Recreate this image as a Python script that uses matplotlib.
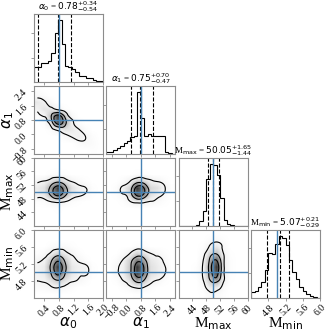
import numpy as np
import matplotlib
matplotlib.use('Agg')
import matplotlib.pyplot as plt
from matplotlib.ticker import MaxNLocator
from matplotlib.tri import Triangulation, UniformTriRefiner

plt.rcParams['font.family'] = ['Liberation Serif', 'DejaVu Serif']
plt.rcParams['mathtext.fontset'] = 'dejavusans'

# parameter names, summary numbers and truths
labels = [r'$\alpha_0$', r'$\alpha_1$', r'M$_{\rm max}$', r'M$_{\rm min}$']
medians = [0.78, 0.75, 50.05, 5.07]
err_lo = [0.54, 0.47, 1.44, 0.29]
err_hi = [0.34, 0.70, 1.65, 0.21]
truths = [0.8, 0.8, 50.0, 5.0]
ranges = [(0.12, 2.0), (-1.1, 2.7), (40.0, 60.0), (4.4, 6.0)]
ticks = [[0.4, 0.8, 1.2, 1.6, 2.0],
         [-0.8, 0.0, 0.8, 1.6, 2.4],
         [44, 48, 52, 56, 60],
         [4.8, 5.2, 5.6, 6.0]]

# 1d histograms (20 bins over each range, relative counts)
hist_a0 = [0.24, 0.24, 0.31, 0.32, 0.35, 0.48, 0.80, 1.00, 0.62, 0.27,
           0.24, 0.22, 0.17, 0.11, 0.11, 0.07, 0.07, 0.04, 0.03, 0.03]
hist_a1 = [0.03, 0.04, 0.07, 0.10, 0.13, 0.18, 0.21, 0.28, 0.29, 1.00,
           0.59, 0.29, 0.32, 0.30, 0.30, 0.29, 0.29, 0.03, 0.02, 0.01]
hist_mmax = [0.0, 0.0, 0.0, 0.0, 0.005, 0.02, 0.09, 0.24, 0.75, 1.00,
             0.98, 0.83, 0.46, 0.10, 0.03, 0.02, 0.005, 0.0, 0.0, 0.0]
hist_mmin = [0.10, 0.12, 0.18, 0.26, 0.45, 0.73, 0.71, 0.87, 1.00, 0.97,
             0.85, 0.61, 0.42, 0.30, 0.18, 0.12, 0.06, 0.03, 0.01, 0.005]

# 2d densities, 10x10 cells over the panel ranges, top row first
dens_a0_a1 = [
    [0.02, 0, 0, 0, 0, 0, 0, 0, 0, 0],
    [0.06, 0.03, 0, 0, 0, 0, 0, 0, 0, 0],
    [0.20, 0.14, 0.05, 0, 0, 0, 0, 0, 0, 0],
    [0.14, 0.22, 0.20, 0.10, 0.02, 0, 0, 0, 0, 0],
    [0.02, 0.10, 0.45, 1.00, 0.40, 0.06, 0, 0, 0, 0],
    [0, 0.02, 0.25, 0.90, 0.55, 0.15, 0.03, 0, 0, 0],
    [0, 0, 0.03, 0.12, 0.22, 0.20, 0.12, 0.04, 0, 0],
    [0, 0, 0, 0, 0.04, 0.10, 0.15, 0.10, 0.03, 0],
    [0, 0, 0, 0, 0, 0, 0.04, 0.06, 0.04, 0.01],
    [0, 0, 0, 0, 0, 0, 0, 0, 0.02, 0.01]]
dens_a0_mmax = [
    [0, 0, 0, 0, 0, 0, 0, 0, 0, 0],
    [0, 0, 0, 0, 0, 0, 0, 0, 0, 0],
    [0, 0, 0.02, 0.04, 0.02, 0, 0, 0, 0, 0],
    [0.08, 0.12, 0.25, 0.40, 0.25, 0.10, 0.05, 0.02, 0, 0],
    [0.18, 0.25, 0.60, 1.00, 0.60, 0.25, 0.15, 0.11, 0.02, 0],
    [0.15, 0.20, 0.50, 0.85, 0.50, 0.20, 0.12, 0.07, 0.01, 0],
    [0.02, 0.03, 0.08, 0.12, 0.08, 0.03, 0.01, 0, 0, 0],
    [0, 0, 0, 0.02, 0, 0, 0, 0, 0, 0],
    [0, 0, 0, 0, 0, 0, 0, 0, 0, 0],
    [0, 0, 0, 0, 0, 0, 0, 0, 0, 0]]
dens_a1_mmax = [
    [0, 0, 0, 0, 0, 0, 0, 0, 0, 0],
    [0, 0, 0, 0, 0, 0, 0, 0, 0, 0],
    [0, 0, 0, 0, 0.02, 0.02, 0, 0, 0, 0],
    [0, 0, 0.04, 0.12, 0.35, 0.30, 0.15, 0.10, 0.04, 0],
    [0, 0.03, 0.14, 0.35, 1.00, 0.80, 0.30, 0.25, 0.11, 0.01],
    [0, 0.02, 0.08, 0.30, 0.85, 0.65, 0.25, 0.15, 0.06, 0],
    [0, 0, 0.02, 0.08, 0.15, 0.12, 0.08, 0.05, 0.02, 0],
    [0, 0, 0, 0, 0, 0, 0, 0, 0, 0],
    [0, 0, 0, 0, 0, 0, 0, 0, 0, 0],
    [0, 0, 0, 0, 0, 0, 0, 0, 0, 0]]
dens_a0_mmin = [
    [0, 0, 0, 0, 0, 0, 0, 0, 0, 0],
    [0, 0, 0, 0, 0, 0, 0, 0, 0, 0],
    [0, 0, 0.03, 0.06, 0.04, 0.02, 0, 0, 0, 0],
    [0.02, 0.05, 0.15, 0.30, 0.18, 0.08, 0.03, 0, 0, 0],
    [0.08, 0.12, 0.40, 0.75, 0.40, 0.15, 0.08, 0.03, 0, 0],
    [0.12, 0.18, 0.55, 1.00, 0.55, 0.20, 0.15, 0.14, 0.02, 0],
    [0.12, 0.18, 0.45, 0.85, 0.45, 0.20, 0.12, 0.12, 0.02, 0],
    [0.10, 0.12, 0.25, 0.40, 0.25, 0.12, 0.08, 0.03, 0, 0],
    [0.04, 0.05, 0.08, 0.10, 0.06, 0.03, 0, 0, 0, 0],
    [0, 0, 0, 0.01, 0, 0, 0, 0, 0, 0]]
dens_a1_mmin = [
    [0, 0, 0, 0, 0, 0, 0, 0, 0, 0],
    [0, 0, 0, 0, 0, 0, 0, 0, 0, 0],
    [0, 0, 0, 0, 0.03, 0.02, 0, 0, 0, 0],
    [0, 0, 0.04, 0.12, 0.30, 0.22, 0.10, 0.06, 0.02, 0],
    [0, 0.03, 0.12, 0.35, 0.70, 0.55, 0.20, 0.15, 0.06, 0],
    [0, 0.07, 0.15, 0.40, 1.00, 0.75, 0.25, 0.18, 0.11, 0],
    [0, 0.07, 0.15, 0.40, 0.95, 0.70, 0.25, 0.18, 0.10, 0],
    [0, 0.02, 0.10, 0.25, 0.55, 0.40, 0.15, 0.08, 0.02, 0],
    [0, 0, 0.02, 0.06, 0.12, 0.08, 0.03, 0, 0, 0],
    [0, 0, 0, 0, 0.01, 0, 0, 0, 0, 0]]
dens_mmax_mmin = [
    [0, 0, 0, 0, 0, 0, 0, 0, 0, 0],
    [0, 0, 0, 0, 0.03, 0.05, 0.02, 0, 0, 0],
    [0, 0, 0, 0.02, 0.12, 0.20, 0.06, 0, 0, 0],
    [0, 0, 0, 0.05, 0.30, 0.42, 0.10, 0.01, 0, 0],
    [0, 0, 0, 0.09, 0.50, 0.80, 0.15, 0.02, 0, 0],
    [0, 0, 0.02, 0.11, 0.60, 1.00, 0.17, 0.02, 0, 0],
    [0, 0, 0.02, 0.11, 0.55, 0.90, 0.15, 0.02, 0, 0],
    [0, 0, 0, 0.08, 0.40, 0.55, 0.12, 0.01, 0, 0],
    [0, 0, 0, 0.04, 0.18, 0.18, 0.05, 0, 0, 0],
    [0, 0, 0, 0.01, 0.06, 0.05, 0.02, 0, 0, 0]]

hists = [hist_a0, hist_a1, hist_mmax, hist_mmin]
dens = {(1, 0): dens_a0_a1, (2, 0): dens_a0_mmax, (2, 1): dens_a1_mmax,
        (3, 0): dens_a0_mmin, (3, 1): dens_a1_mmin, (3, 2): dens_mmax_mmin}
levels = [0.1, 0.45, 0.8]
truth_color = '#4682b4'
frame_color = '0.55'


def draw_density(ax, grid, xr, yr):
    z = np.array(grid, dtype=float)[::-1]
    ny, nx = z.shape
    ax.imshow(z, extent=(xr[0], xr[1], yr[0], yr[1]), origin='lower',
              cmap='Greys', vmin=0, vmax=1.2, interpolation='bilinear',
              aspect='auto')
    # contour on a refined triangulation of the cell centres
    ii, jj = np.meshgrid(np.arange(nx), np.arange(ny))
    tri = Triangulation(ii.ravel().astype(float), jj.ravel().astype(float))
    tri_f, z_f = UniformTriRefiner(tri).refine_field(z.ravel(), subdiv=3)
    dx = (xr[1] - xr[0]) / nx
    dy = (yr[1] - yr[0]) / ny
    tri_d = Triangulation(xr[0] + (tri_f.x + 0.5) * dx,
                          yr[0] + (tri_f.y + 0.5) * dy, tri_f.triangles)
    ax.tricontour(tri_d, z_f, levels=levels, colors='k', linewidths=0.8)


fig, axes = plt.subplots(4, 4, figsize=(3.33, 3.33), dpi=100)
fig.subplots_adjust(left=0.102, right=0.961, bottom=0.105, top=0.958,
                    wspace=0.05, hspace=0.05)

for i in range(4):
    for j in range(4):
        ax = axes[i, j]
        if j > i:
            ax.axis('off')
            continue
        for s in ax.spines.values():
            s.set_color(frame_color)
            s.set_linewidth(0.8)
        ax.tick_params(length=2.5, width=0.6, color=frame_color,
                       labelsize=7, pad=1)
        if i == j:
            h = np.array(hists[i])
            edges = np.linspace(ranges[i][0], ranges[i][1], len(h) + 1)
            ax.stairs(h, edges, color='k', linewidth=0.8)
            ax.set_ylim(0, 1.1 * h.max())
            ax.yaxis.set_major_locator(MaxNLocator(3, prune='lower'))
            ax.set_yticklabels([])
            q = [medians[i] - err_lo[i], medians[i], medians[i] + err_hi[i]]
            for v in q:
                ax.axvline(v, color='k', ls='--', lw=0.8)
            ax.axvline(truths[i], color=truth_color, lw=1.0)
            title = '{} = ${:.2f}_{{-{:.2f}}}^{{+{:.2f}}}$'.format(
                labels[i], medians[i], err_lo[i], err_hi[i])
            ax.set_title(title, fontsize=6.5, pad=1.5)
        else:
            draw_density(ax, dens[(i, j)], ranges[j], ranges[i])
            ax.axvline(truths[j], color=truth_color, lw=1.0)
            ax.axhline(truths[i], color=truth_color, lw=1.0)
            ax.set_ylim(ranges[i])
            ax.set_yticks(ticks[i])
            if j == 0:
                for lb in ax.get_yticklabels():
                    lb.set_rotation(45)
                ax.set_ylabel(labels[i], fontsize=11)
                ax.yaxis.set_label_coords(-0.26, 0.5)
            else:
                ax.set_yticklabels([])
        ax.set_xlim(ranges[j])
        ax.set_xticks(ticks[j])
        if i == 3:
            for lb in ax.get_xticklabels():
                lb.set_rotation(45)
            ax.set_xlabel(labels[j], fontsize=11)
            ax.xaxis.set_label_coords(0.5, -0.25)
        else:
            ax.set_xticklabels([])

fig.savefig('out.png', dpi=100)
